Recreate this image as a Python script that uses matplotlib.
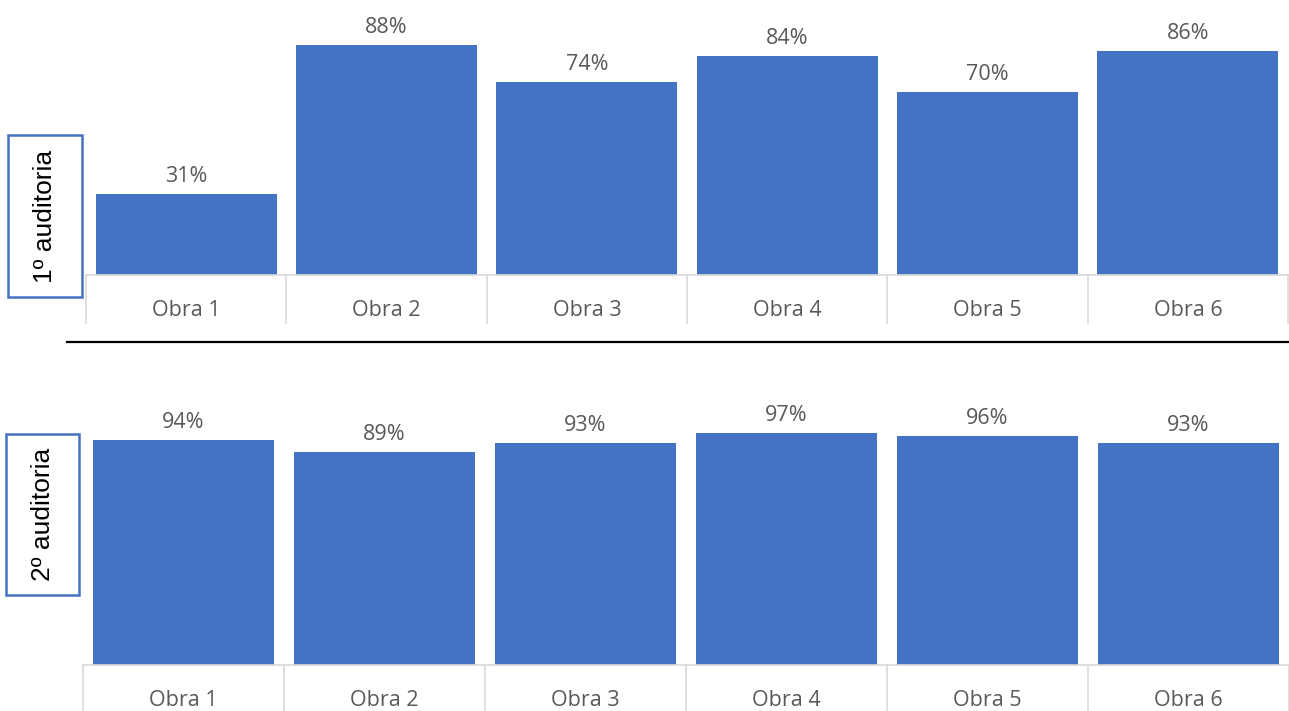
import matplotlib
matplotlib.use("Agg")
import matplotlib.pyplot as plt
from matplotlib.patches import Rectangle
from matplotlib.lines import Line2D
from matplotlib.transforms import blended_transform_factory

# Data
categories = ["Obra 1", "Obra 2", "Obra 3", "Obra 4", "Obra 5", "Obra 6"]
audit1 = [31, 88, 74, 84, 70, 86]
audit2 = [94, 89, 93, 97, 96, 93]
panel_titles = ["1º auditoria", "2º auditoria"]

BAR = "#4472C4"
TXT = "#595959"
GRID = "#D9D9D9"
W, H = 1289, 711

fig = plt.figure(figsize=(W / 100, H / 100), dpi=100)
fig.patch.set_facecolor("white")


def fx(px):
    return px / W


def fy(py):
    return 1 - py / H


def panel(values, x0, x1, y_top, y_base, sep_bottom, label_y, box, title):
    ax = fig.add_axes([fx(x0), fy(y_base), fx(x1 - x0), (y_base - y_top) / H])
    xs = range(len(categories))
    ax.bar(xs, [v / 100 for v in values], width=0.905, color=BAR, zorder=3)
    ax.set_xlim(-0.5, len(categories) - 0.5)
    ax.set_ylim(0, 1.0)
    ax.axis("off")
    for i, v in enumerate(values):
        ax.annotate(f"{v}%", (i, v / 100), xytext=(0, 12.5), textcoords="offset points",
                    ha="center", va="center", fontsize=15.5, color=TXT,
                    family="Open Sans")
    tr = blended_transform_factory(ax.transData, fig.transFigure)
    # baseline of the category axis
    fig.add_artist(Line2D([-0.5, len(categories) - 0.5], [fy(y_base), fy(y_base)],
                          transform=tr, color=GRID, lw=1.2, zorder=1))
    # category separators
    for b in range(len(categories) + 1):
        xb = b - 0.5
        fig.add_artist(Line2D([xb, xb], [fy(y_base), fy(sep_bottom)],
                              transform=tr, color=GRID, lw=1.2, zorder=1))
    for i, c in enumerate(categories):
        fig.text(i, fy(label_y), c, transform=tr, ha="center", va="center",
                 fontsize=15.5, color=TXT, family="Open Sans")
    # rotated panel title in a framed box
    bx0, by0, bx1, by1 = box
    fig.add_artist(Rectangle((fx(bx0), fy(by1)), fx(bx1 - bx0), (by1 - by0) / H,
                             transform=fig.transFigure, facecolor="white",
                             edgecolor=BAR, lw=1.8))
    fig.text(fx((bx0 + bx1) / 2), fy((by0 + by1) / 2), title, rotation=90,
             ha="center", va="center", fontsize=19, color="black",
             family="Liberation Sans")
    return ax


panel(audit1, 86, 1288, 14, 275, 323, 310, (8, 135, 82, 297), panel_titles[0])
panel(audit2, 83, 1289, 426, 665, 712, 700, (6, 434, 79, 595), panel_titles[1])

# divider between the two panels
fig.add_artist(Line2D([fx(67), fx(1289)], [fy(341.5), fy(341.5)],
                      transform=fig.transFigure, color="black", lw=1.6))

fig.savefig("out.png", dpi=100, facecolor="white")
